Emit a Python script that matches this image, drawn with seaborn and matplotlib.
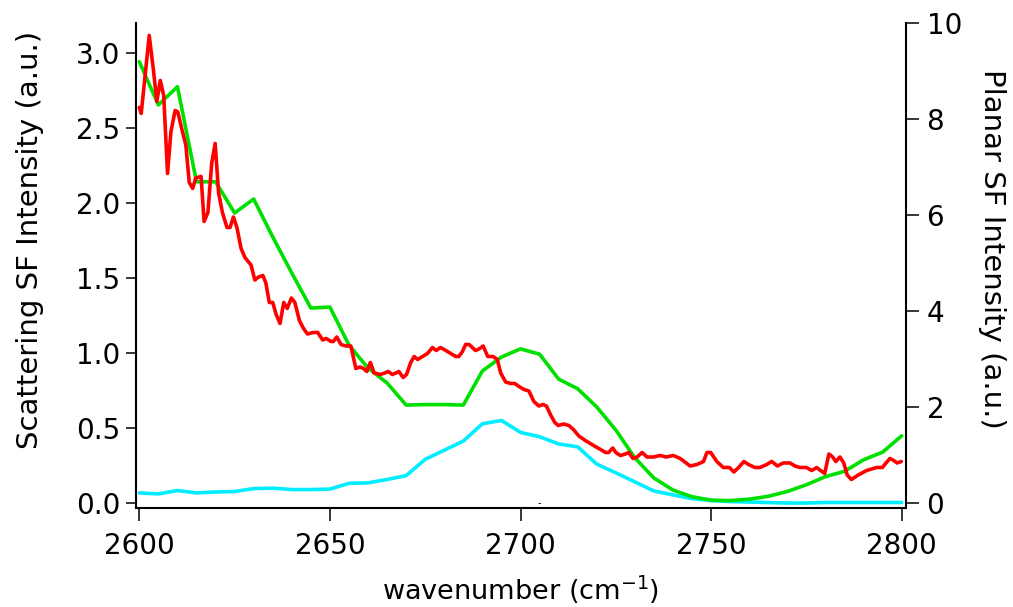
import matplotlib
matplotlib.use("Agg")
import matplotlib.pyplot as plt
import seaborn as sns
import numpy as np

# ---------------- data ----------------
# Scattering SF intensity (left axis, red)
red_wn = [2600.0, 2600.5, 2602.6, 2603.7, 2604.6, 2605.5, 2606.4, 2607.4, 2608.3, 2609.4,
          2610.1, 2611.2, 2612.2, 2613.1, 2614.0, 2614.8, 2616.2, 2617.0, 2618.0, 2619.0,
          2619.9, 2620.8, 2621.8, 2623.0, 2623.8, 2624.7, 2625.6, 2626.7, 2627.7, 2629.3,
          2630.3, 2631.3, 2632.4, 2633.2, 2634.1, 2635.0, 2635.9, 2636.9, 2637.9, 2638.8,
          2639.9, 2640.8, 2642.0, 2643.0, 2644.1, 2645.6, 2646.8, 2648.1, 2649.0, 2650.3,
          2650.9, 2651.8, 2652.9, 2654.2, 2655.5, 2656.8, 2657.9, 2658.8, 2659.7, 2660.6,
          2661.6, 2663.2, 2664.4, 2665.3, 2666.4, 2667.3, 2668.1, 2669.2, 2670.1, 2671.2,
          2672.1, 2673.0, 2674.3, 2675.6, 2676.9, 2677.9, 2679.0, 2680.4, 2681.7, 2683.0,
          2683.8, 2684.7, 2685.6, 2686.5, 2688.2, 2689.1, 2690.2, 2691.4, 2692.8, 2693.9,
          2694.8, 2696.1, 2697.4, 2698.5, 2699.6, 2700.9, 2702.2, 2703.5, 2704.8, 2705.9,
          2706.8, 2707.9, 2709.0, 2709.9, 2711.3, 2712.7, 2714.0, 2715.3, 2717.0, 2718.3,
          2719.6, 2721.0, 2722.3, 2723.1, 2724.2, 2725.0, 2726.2, 2727.5, 2728.4, 2729.5,
          2730.6, 2731.9, 2733.2, 2734.9, 2736.6, 2738.2, 2740.1, 2741.9, 2744.5, 2746.3,
          2748.0, 2748.9, 2749.9, 2751.5, 2753.2, 2754.8, 2756.0, 2757.2, 2758.6, 2759.8,
          2761.5, 2762.8, 2764.6, 2765.9, 2767.4, 2768.9, 2770.7, 2772.0, 2773.3, 2775.0,
          2776.4, 2777.7, 2778.7, 2779.8, 2780.9, 2781.9, 2782.7, 2783.8, 2784.8, 2785.7,
          2786.8, 2788.6, 2790.8, 2793.4, 2794.9, 2796.9, 2797.7, 2798.8, 2799.9]
red_val = [2.64, 2.60, 3.12, 2.89, 2.68, 2.82, 2.72, 2.20, 2.48, 2.62,
           2.61, 2.49, 2.39, 2.14, 2.10, 2.17, 2.18, 1.88, 1.94, 2.27,
           2.40, 2.07, 1.94, 1.84, 1.84, 1.91, 1.84, 1.70, 1.64, 1.59,
           1.49, 1.51, 1.52, 1.47, 1.34, 1.34, 1.26, 1.20, 1.34, 1.30,
           1.37, 1.34, 1.22, 1.17, 1.13, 1.14, 1.14, 1.09, 1.10, 1.08,
           1.08, 1.11, 1.06, 1.05, 1.05, 0.90, 0.91, 0.90, 0.88, 0.94,
           0.87, 0.86, 0.87, 0.88, 0.86, 0.87, 0.88, 0.84, 0.86, 0.94,
           0.98, 0.96, 0.98, 1.00, 1.04, 1.02, 1.04, 1.02, 1.00, 0.98,
           0.98, 1.01, 1.06, 1.06, 1.02, 1.03, 1.05, 0.98, 0.98, 0.96,
           0.87, 0.81, 0.80, 0.80, 0.78, 0.76, 0.75, 0.68, 0.65, 0.66,
           0.65, 0.59, 0.54, 0.52, 0.53, 0.52, 0.49, 0.45, 0.42, 0.40,
           0.38, 0.36, 0.34, 0.34, 0.37, 0.34, 0.32, 0.33, 0.34, 0.30,
           0.31, 0.34, 0.31, 0.31, 0.32, 0.31, 0.32, 0.30, 0.25, 0.26,
           0.28, 0.34, 0.34, 0.28, 0.24, 0.24, 0.21, 0.24, 0.28, 0.26,
           0.24, 0.24, 0.26, 0.28, 0.25, 0.27, 0.27, 0.25, 0.24, 0.24,
           0.22, 0.24, 0.22, 0.20, 0.33, 0.31, 0.28, 0.31, 0.27, 0.19,
           0.16, 0.19, 0.22, 0.24, 0.24, 0.30, 0.29, 0.27, 0.28]

# Planar SF intensity (right axis): green and cyan, 5 cm-1 steps
planar_wn = [2600, 2605, 2610, 2615, 2620, 2625, 2630, 2635, 2640, 2645,
             2650, 2655, 2660, 2665, 2670, 2675, 2680, 2685, 2690, 2695,
             2700, 2705, 2710, 2715, 2720, 2725, 2730, 2735, 2740, 2745,
             2750, 2755, 2760, 2765, 2770, 2775, 2780, 2785, 2790, 2795, 2800]
green_val = [9.20, 8.30, 8.68, 6.70, 6.70, 6.05, 6.34, 5.55, 4.80, 4.07,
             4.09, 3.30, 2.82, 2.51, 2.05, 2.06, 2.06, 2.05, 2.76, 3.05,
             3.22, 3.11, 2.59, 2.39, 2.01, 1.53, 0.95, 0.53, 0.28, 0.14,
             0.07, 0.06, 0.09, 0.15, 0.25, 0.39, 0.56, 0.67, 0.91, 1.07, 1.41]
cyan_val = [0.22, 0.20, 0.27, 0.22, 0.24, 0.25, 0.31, 0.32, 0.29, 0.29,
            0.30, 0.42, 0.43, 0.50, 0.58, 0.92, 1.11, 1.30, 1.66, 1.73,
            1.48, 1.39, 1.24, 1.18, 0.82, 0.64, 0.45, 0.26, 0.18, 0.10,
            0.06, 0.04, 0.03, 0.02, 0.01, 0.01, 0.02, 0.02, 0.02, 0.02, 0.02]

x_ticks = [2600, 2650, 2700, 2750, 2800]
left_ticks = [0.0, 0.5, 1.0, 1.5, 2.0, 2.5, 3.0]
right_ticks = [0, 2, 4, 6, 8, 10]

# ---------------- style ----------------
sns.set_style("ticks")
plt.rcParams['font.family'] = ['DejaVu Sans']
plt.rcParams['text.color'] = 'black'

W, H = 1013, 607
fig = plt.figure(figsize=(W / 100, H / 100), dpi=100)
L, R, T, B = 135.5, 905.7, 23.3, 508.3
ax1 = fig.add_axes([L / W, (H - B) / H, (R - L) / W, (B - T) / H])
ax2 = ax1.twinx()
ax1.set_zorder(ax2.get_zorder() + 1)
ax1.patch.set_visible(False)

lw = 2.6
sns.lineplot(x=planar_wn, y=cyan_val, ax=ax2, color='#00eeff', linewidth=lw,
             estimator=None, sort=False)
sns.lineplot(x=planar_wn, y=green_val, ax=ax2, color='#00e000', linewidth=lw,
             estimator=None, sort=False)
sns.lineplot(x=red_wn, y=red_val, ax=ax1, color='#ff0000', linewidth=lw,
             estimator=None, sort=False)

ax1.set_xlim(2599.0, 2801.05)
ax1.set_ylim(-0.032, 3.201)
ax2.set_ylim(-0.1, 10.0)

ax1.set_xticks(x_ticks)
ax1.set_xticklabels([str(t) for t in x_ticks])
ax1.set_yticks(left_ticks)
ax1.set_yticklabels([f"{t:.1f}" for t in left_ticks])
ax2.set_yticks(right_ticks)
ax2.set_yticklabels([str(t) for t in right_ticks])

for ax in (ax1, ax2):
    ax.set_xlabel('')
    ax.set_ylabel('')
    ax.spines['top'].set_visible(False)
    for s in ('left', 'right', 'bottom'):
        ax.spines[s].set_linewidth(1.5)
        ax.spines[s].set_color('black')

ax1.spines['right'].set_visible(False)
ax2.spines['left'].set_visible(False)
ax2.spines['bottom'].set_visible(False)

ax1.tick_params(axis='x', direction='out', length=9, width=1.1, pad=8,
                labelsize=20, colors='black')
ax1.tick_params(axis='y', direction='out', length=7.5, width=1.1, pad=3.5,
                labelsize=20, colors='black')
ax2.tick_params(axis='y', direction='out', length=9, width=1.1, pad=6,
                labelsize=20, colors='black')

# tiny dash mark near the baseline
ax1.text(2705.0, 0.0, '-', fontsize=7, ha='center', va='center', color='black')

fig.text(30 / W, 1 - 240 / H, 'Scattering SF Intensity (a.u.)', rotation=90,
         ha='center', va='center', fontsize=21, color='black')
fig.text(992 / W, 1 - 249 / H, 'Planar SF Intensity (a.u.)', rotation=270,
         ha='center', va='center', fontsize=21, color='black')
fig.text(521 / W, 7 / H, 'wavenumber (cm$^{-1}$)', ha='center', va='baseline',
         fontsize=19.5, color='black')

fig.savefig('out.png', dpi=100)
